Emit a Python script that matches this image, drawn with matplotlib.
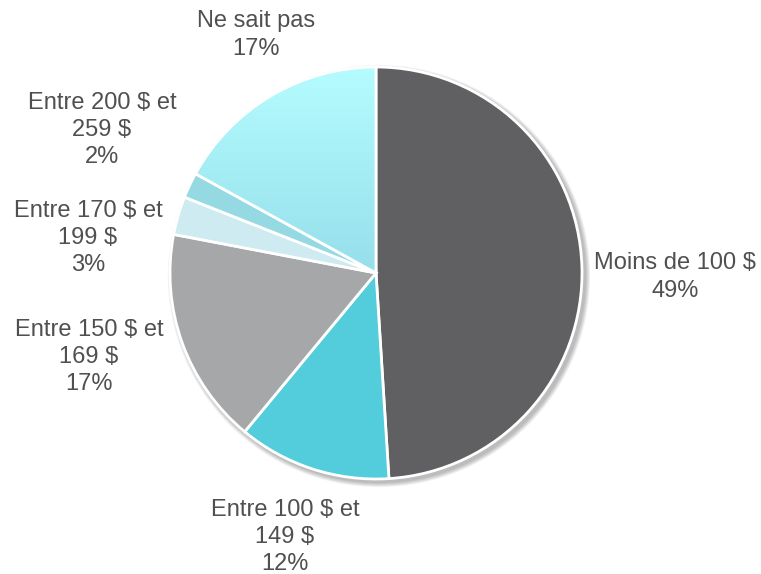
import numpy as np
import matplotlib.pyplot as plt
from matplotlib.patches import Circle
from matplotlib.colors import LinearSegmentedColormap

labels = ["Moins de 100 $", "Entre 100 $ et\n149 $", "Entre 150 $ et\n169 $",
          "Entre 170 $ et\n199 $", "Entre 200 $ et\n259 $", "Ne sait pas"]
shares = [49, 12, 17, 3, 2, 17]
colors = ["#606062", "#53cddb", "#a6a7a9", "#cdebf0", "#95d9e3", "#a6eef4"]

# label centres relative to pie centre, in pixels
label_off = [(299, -4), (-91, -264), (-287, -84), (-288, 35), (-274, 143), (-120, 238)]

W, H = 761, 574
fig = plt.figure(figsize=(W / 100, H / 100), dpi=100)
ax = fig.add_axes([0, 0, 1, 1])
ax.set_xlim(0, W)
ax.set_ylim(0, H)
ax.set_aspect("equal")
ax.axis("off")

cx, cy, r = 376, H - 273, 206

# soft shadow
for i in range(8):
    ax.add_patch(Circle((cx + 3, cy - 3), r + 1 + i * 0.6, color="black",
                        alpha=0.035, lw=0, zorder=0))

wedges, _ = ax.pie(shares, colors=colors, startangle=90, counterclock=False,
                   center=(cx, cy), radius=r,
                   wedgeprops=dict(edgecolor="white", linewidth=2),
                   frame=False)
ax.set_xlim(0, W)
ax.set_ylim(0, H)

# gradient on the last slice
cmap = LinearSegmentedColormap.from_list("g", ["#96dfeb", "#b4fcfe"])
grad = np.linspace(0, 1, 256).reshape(-1, 1)
im = ax.imshow(grad, cmap=cmap, origin="lower", aspect="auto",
               extent=(cx - r, cx, cy, cy + r), zorder=wedges[-1].get_zorder())
im.set_clip_path(wedges[-1])
wedges[-1].set_facecolor("none")
wedges[-1].set_zorder(im.get_zorder() + 0.1)

for lab, s, (dx, dy) in zip(labels, shares, label_off):
    ax.text(cx + dx, cy + dy, f"{lab}\n{s}%", ha="center", va="center",
            fontsize=17, color="#505050", linespacing=1.32,
            family="Liberation Sans")

fig.savefig("out.png", dpi=100)
